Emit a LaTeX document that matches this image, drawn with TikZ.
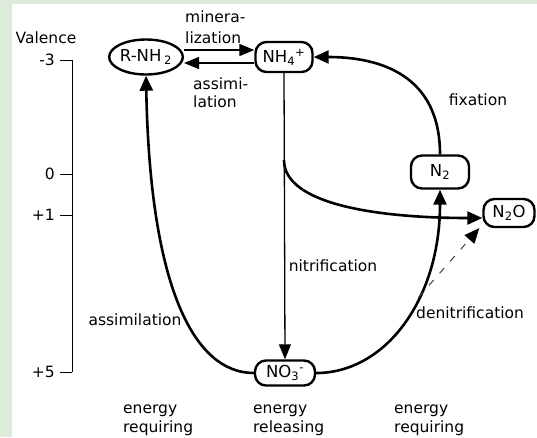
\documentclass[tikz,border=0pt]{standalone}
\usepackage{fontspec}
\setmainfont{DejaVu Sans}
\usepackage{tikz}
\usetikzlibrary{arrows.meta,shapes.geometric,positioning}
\definecolor{panelgreen}{RGB}{221,235,217}

\begin{document}
\begin{tikzpicture}[x=1pt,y=-1pt,
	font=\fontsize{15.5}{18}\selectfont,
	species/.style={draw,line width=2.4pt,rounded corners=11pt,inner sep=0pt,font=\fontsize{16.5}{19}\selectfont},
	flow/.style={line width=2.6pt,-{Triangle[length=15pt,width=13pt]}},
	thinflow/.style={line width=1.3pt,-{Triangle[length=15pt,width=12pt]}},
	lbl/.style={inner sep=0pt,align=left}]
\useasboundingbox (0,0) rectangle (537,437);
\fill[panelgreen] (0,0) rectangle (537,437);
\fill[white] (12,4) rectangle (537,437);
% valence scale
\node[lbl] (valence) at (46,38) {Valence};
\draw[semithick] (72,60) -- (72,372);
\foreach \v/\y in {-3/60,0/174,+1/215,+5/372} {
	\draw[semithick] (60,\y) -- (72,\y);
	\node[lbl,anchor=east] (val\y) at (55,\y) {\v};
}
% nitrogen species
\node[draw,ellipse,line width=2.4pt,minimum width=66pt,minimum height=35pt,inner sep=0pt,font=\fontsize{16.5}{19}\selectfont] (RNH2) at (146,57) {R-NH\,\textsubscript{2}};
\node[species,minimum width=57pt,minimum height=30pt] (NH4) at (284,57) {NH\textsubscript{4}\textsuperscript{+}};
\node[species,minimum width=60pt,minimum height=25pt] (NO3) at (285,373) {NO\textsubscript{3}\textsuperscript{-}};
\node[species,minimum width=58pt,minimum height=33pt] (N2) at (440,172) {N\textsubscript{2}};
\node[species,minimum width=51pt,minimum height=28pt] (N2O) at (509,213) {N\textsubscript{2}O};
% flows
\draw[thinflow] ([yshift=7pt]RNH2.east) -- ([yshift=7pt]NH4.west);
\draw[thinflow] ([yshift=-6pt]NH4.west) -- ([yshift=-6pt]RNH2.east);
\draw[thinflow] (NH4.south) -- (NO3.north);
\coordinate (split) at (NH4.south |- 0,160);
\draw[flow] (split) .. controls (284,205) and (380,218) .. ([yshift=-5pt]N2O.west);
\draw[flow] (NO3.west) .. controls (195,373) and (150,290) .. (RNH2.south);
\draw[flow] (NO3.east) .. controls (385,373) and (440,300) .. (N2.south) coordinate[pos=0.62] (dn);
\draw[flow] (N2.north) .. controls (440,75) and (380,57) .. (NH4.east);
\draw[black!75,line width=1pt,dash pattern=on 7pt off 9pt,-{Triangle[length=15pt,width=13pt,color=black]}] (dn) -- ([xshift=-3pt]N2O.south west);
% labels
\node[lbl,anchor=west] (minera) at (185,27) {minera-\\[3pt]lization};
\node[lbl,anchor=west] (assimi) at (193,93) {assimi-\\lation};
\node[lbl] (fixation) at (478,100) {fixation};
\node[lbl] (nitrification) at (333,266) {nitrification};
\node[lbl] (assimilation) at (135,320) {assimilation};
\node[lbl,anchor=west] (denitrification) at (416,313) {denitrification};
\node[lbl,anchor=west] (reqleft) at (123,420) {energy\\[1pt]requiring};
\node[lbl,anchor=west] (releasing) at (253,420) {energy\\[1pt]releasing};
\node[lbl,anchor=west] (reqright) at (394,420) {energy\\[1pt]requiring};
\end{tikzpicture}
\end{document}
